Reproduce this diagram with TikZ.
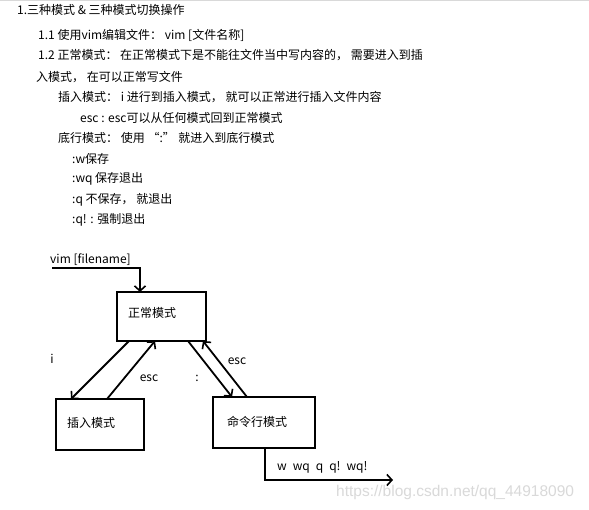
\documentclass[tikz,border=0pt]{standalone}
\usepackage{fontspec}
\setmainfont{Noto Sans CJK SC}
\newfontfamily\wmfont{Liberation Sans}
\usetikzlibrary{arrows.meta}
\begin{document}
\begin{tikzpicture}[x=1pt,y=-1pt,
  txt/.style={anchor=west, inner sep=0pt, font=\fontsize{12}{14}\selectfont},
  modebox/.style={draw, line width=2.2pt, inner sep=0pt, outer sep=0pt},
  conn/.style={line width=1.8pt, -{Straight Barb[length=5pt,width=11pt,line width=1.6pt]}},
  lbl/.style={inner sep=0pt, font=\fontsize{12}{14}\selectfont}]
\useasboundingbox (0,0) rectangle (589,510);
\fill[white] (0,0) rectangle (589,510);
\draw[black!15, line width=1pt] (0,1) -- (589,1);

% text block
\node[txt] (t0) at (17,9.5) {1.三种模式 \& 三种模式切换操作};
\node[txt] (t1) at (38,35) {1.1 使用vim编辑文件： vim [文件名称]};
\node[txt] (t2) at (38,55.5) {1.2 正常模式： 在正常模式下是不能往文件当中写内容的， 需要进入到插};
\node[txt] (t3) at (36,77) {入模式， 在可以正常写文件};
\node[txt] (t4) at (58,97.5) {插入模式： i 进行到插入模式， 就可以正常进行插入文件内容};
\node[txt] (t5) at (80,118) {esc : esc可以从任何模式回到正常模式};
\node[txt] (t6) at (58,138) {底行模式： 使用 “:” 就进入到底行模式};
\node[txt] (t7) at (72,158.5) {:w保存};
\node[txt] (t8) at (72,179) {:wq 保存退出};
\node[txt] (t9) at (72,199.5) {:q 不保存， 就退出};
\node[txt] (t10) at (72,220) {:q! : 强制退出};

% diagram boxes
\node[modebox, minimum width=89pt, minimum height=49pt] (normal) at (161.5,316.5) {};
\node[modebox, minimum width=88pt, minimum height=51pt] (insert) at (100,424.5) {};
\node[modebox, minimum width=102pt, minimum height=51pt] (cmd) at (264,422.5) {};
\node[txt] (normalt) at (128,313) {正常模式};
\node[txt] (insertt) at (67,423) {插入模式};
\node[txt] (cmdt) at (227,422) {命令行模式};

% entry
\node[txt] (vimt) at (50,260) {vim [filename]};
\coordinate (vimstart) at (52,268);
\draw[conn] (vimstart) -| ([xshift=23pt]normal.north west);

% transitions
\draw[conn] ([xshift=12pt]normal.south west) -- ([xshift=15pt]insert.north west);
\draw[conn] ([xshift=51pt]insert.north west) -- ([xshift=38pt]normal.south west);
\draw[conn] ([xshift=-18pt]normal.south east) -- ([xshift=19pt]cmd.north west);
\draw[conn] ([xshift=34pt]cmd.north west) -- ([xshift=-3pt]normal.south east);

\node[lbl] (li) at (52,359) {i};
\node[lbl] (lesc1) at (149,378) {esc};
\node[lbl] (lcolon) at (197,378) {:};
\node[lbl] (lesc2) at (237,361) {esc};

% exit
\coordinate (cmdend) at (393,480);
\draw[conn] ([xshift=52pt]cmd.south west) |- (cmdend);
\node[txt] (cmds) at (277,467.5) {w\hspace{6pt}wq\hspace{6pt}q\hspace{6pt}q!\hspace{6pt}wq!};

% watermark
\node[anchor=west, inner sep=0pt, text=black!15, font=\wmfont\fontsize{15.5}{17}\selectfont] (wm) at (336,492) {https://blog.csdn.net/qq\_44918090};
\end{tikzpicture}
\end{document}
